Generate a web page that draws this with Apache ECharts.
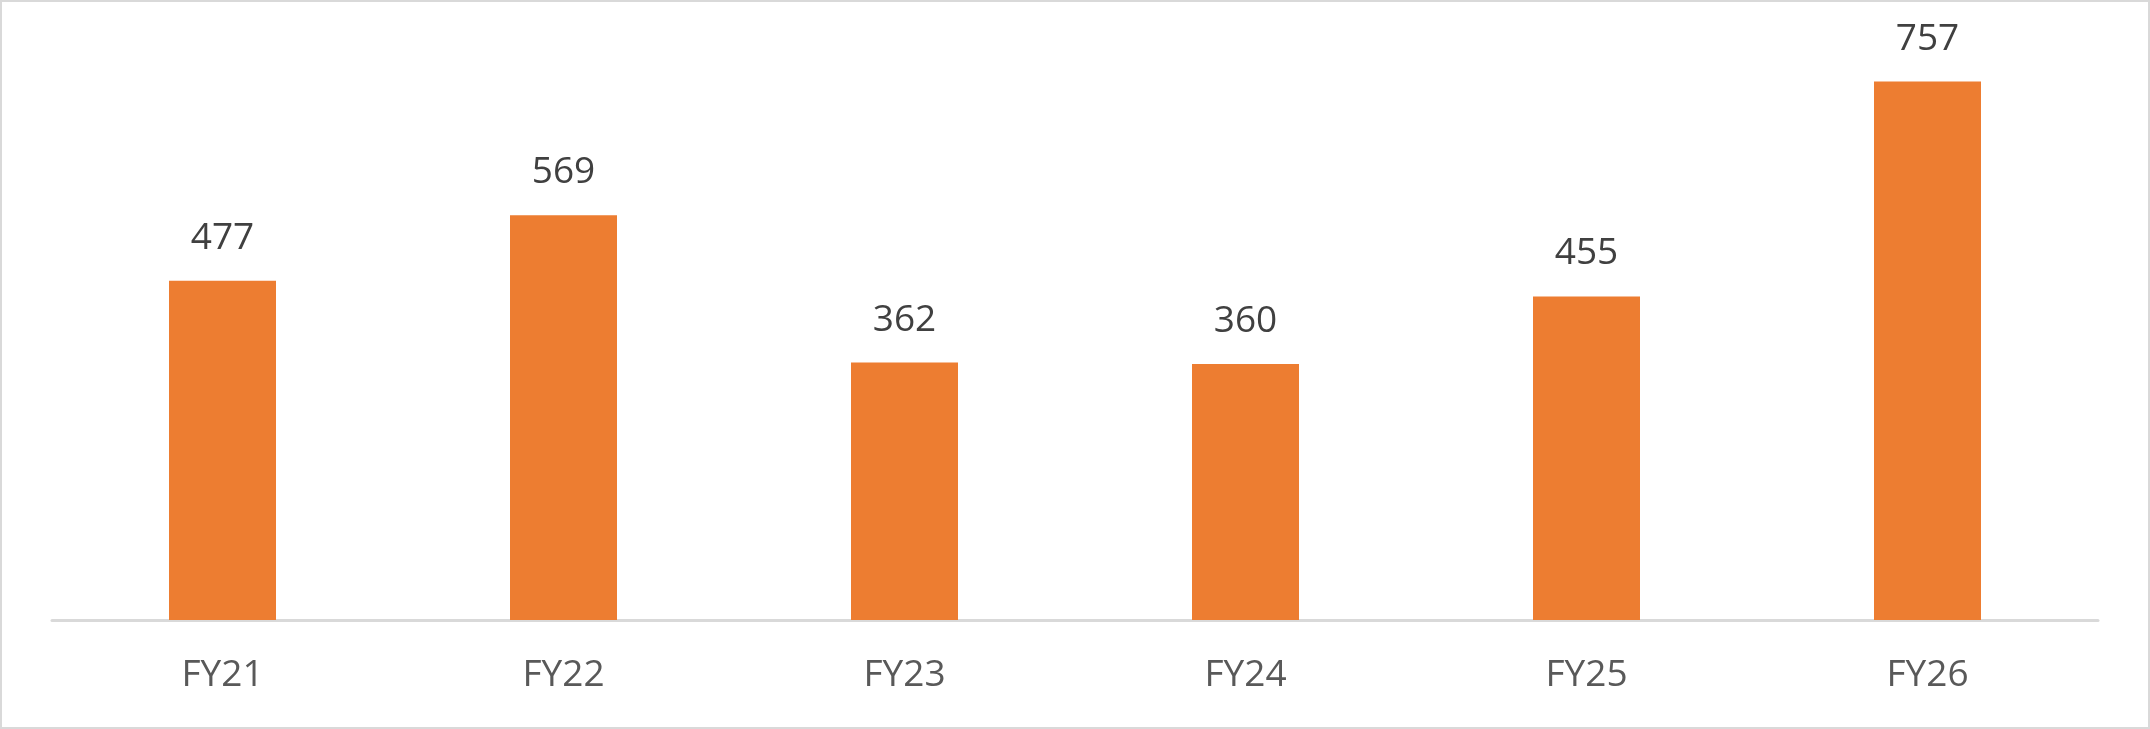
<!DOCTYPE html>
<html>
<head>
<meta charset="utf-8">
<script src="https://cdn.jsdelivr.net/npm/echarts@6/dist/echarts.min.js"></script>
<style>
  html, body { margin: 0; padding: 0; background: #fff; }
  #chart { width: 2150px; height: 729px; box-sizing: border-box; border: 2px solid #d9d9d9; }
</style>
</head>
<body>
<div id="chart"></div>
<script>
// 数据
const categories = ['FY21', 'FY22', 'FY23', 'FY24', 'FY25', 'FY26']
const values = [477, 569, 362, 360, 455, 757]

const chart = echarts.init(document.getElementById('chart'))

const option = {
  animation: false,
  grid: { left: 50, right: 50, top: 49, bottom: 107 },
  xAxis: {
    type: 'category',
    data: categories,
    axisTick: { show: false },
    axisLine: { lineStyle: { color: '#d9d9d9', width: 3 } },
    axisLabel: {
      color: '#595959',
      fontFamily: 'Open Sans',
      fontSize: 37,
      margin: 37
    }
  },
  yAxis: {
    type: 'value',
    min: 0,
    max: 800,
    show: false,
    splitLine: { show: false }
  },
  series: [{
    type: 'bar',
    data: values,
    barWidth: 107,
    itemStyle: { color: '#ED7D31' },
    label: {
      show: true,
      position: 'top',
      distance: 24,
      color: '#404040',
      fontFamily: 'Open Sans',
      fontSize: 37
    }
  }]
}

chart.setOption(option)
</script>
</body>
</html>
